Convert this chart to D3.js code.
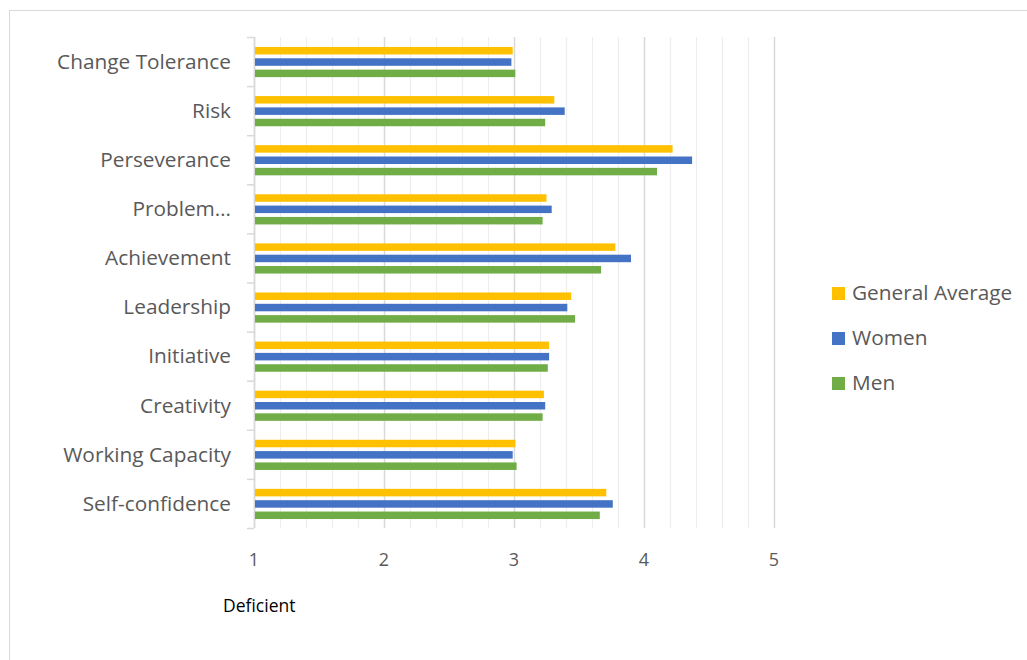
<!DOCTYPE html>
<html><head><meta charset="utf-8">
<script src="https://cdn.jsdelivr.net/npm/d3@7"></script>
<style>body{margin:0;background:#fff}svg{display:block}</style>
</head><body>
<script>
const categories = ["Change Tolerance","Risk","Perseverance","Problem…","Achievement","Leadership","Initiative","Creativity","Working Capacity","Self-confidence"];
const seriesNames = ["General Average","Women","Men"];
const generalAverage = [2.99,3.31,4.22,3.25,3.78,3.44,3.27,3.23,3.01,3.71];
const women =          [2.98,3.39,4.37,3.29,3.90,3.41,3.27,3.24,2.99,3.76];
const men =            [3.01,3.24,4.10,3.22,3.67,3.47,3.26,3.22,3.02,3.66];
const xTicks = [1,2,3,4,5];
const colors = ["#FFC000","#4472C4","#70AD47"];
const seriesValues = [generalAverage, women, men];

(function(){
const W = 1027, H = 660;
const FONT = "'Open Sans', Lato, sans-serif";
const svg = d3.select("body").append("svg").attr("width",W).attr("height",H);
svg.append("rect").attr("x",9.5).attr("y",10.5).attr("width",W+20).attr("height",H+20)
  .attr("fill","none").attr("stroke","#d9d9d9");

const pLeft = 254, pRight = 774, pTop = 37, pBottom = 528;
const x = d3.scaleLinear().domain([1,5]).range([pLeft,pRight]);
const y = d3.scaleBand().domain(categories).range([pTop,pBottom]);

// gridlines
const minor = d3.range(1,5.0001,0.2);
const isMajor = d=>Math.abs(d-Math.round(d))<1e-6;
svg.append("g").selectAll("line").data(minor).join("line")
  .attr("x1",d=>Math.round(x(d))+0.5).attr("x2",d=>Math.round(x(d))+0.5)
  .attr("y1",pTop).attr("y2",pBottom)
  .attr("stroke",d=>isMajor(d) ? "#d9d9d9" : "#eeeeee")
  .attr("stroke-width",d=>isMajor(d) ? 1.5 : 1.2);

// y axis line + ticks
const ya = svg.append("g");
ya.append("line").attr("x1",pLeft+0.5).attr("x2",pLeft+0.5).attr("y1",pTop).attr("y2",pBottom).attr("stroke","#d9d9d9").attr("stroke-width",1.5);
const bounds = categories.map(c=>y(c)).concat([pBottom]);
ya.selectAll("line.t").data(bounds).join("line").attr("class","t")
  .attr("x1",pLeft-7).attr("x2",pLeft).attr("y1",d=>d+0.5).attr("y2",d=>d+0.5)
  .attr("stroke","#d9d9d9").attr("stroke-width",1.5);

// bars
const inner = d3.scaleBand().domain(seriesNames).range([0,34]);
const barH = 7.5;
const bw = y.bandwidth();
seriesNames.forEach((s,si)=>{
  svg.append("g").selectAll("rect").data(categories).join("rect")
    .attr("x",pLeft+1)
    .attr("y",(c)=>y(c)+(bw-34)/2+inner(s)+(inner.bandwidth()-barH)/2+0.5)
    .attr("width",(c,i)=>x(seriesValues[si][i])-pLeft-1)
    .attr("height",barH)
    .attr("fill",colors[si]);
});

// category labels
svg.append("g").selectAll("text").data(categories).join("text")
  .attr("x",231).attr("y",c=>y(c)+bw/2)
  .attr("dy","0.35em").attr("text-anchor","end")
  .attr("font-family",FONT).attr("font-size",20.8)
  .attr("fill","#595959").text(c=>c);

// x tick labels
svg.append("g").selectAll("text").data(xTicks).join("text")
  .attr("x",d=>x(d)).attr("y",560).attr("dy","0.35em").attr("text-anchor","middle")
  .attr("font-family",FONT).attr("font-size",18)
  .attr("fill","#595959").text(d=>d);

svg.append("text").attr("x",223).attr("y",612)
  .attr("font-family",FONT).attr("font-size",17.5)
  .attr("fill","#000").text("Deficient");

// legend
const lg = svg.append("g");
seriesNames.forEach((s,i)=>{
  const cy = 293 + i*45;
  lg.append("rect").attr("x",832).attr("y",cy-6).attr("width",13).attr("height",13).attr("fill",colors[i]);
  lg.append("text").attr("x",852).attr("y",cy).attr("dy","0.35em")
    .attr("font-family",FONT).attr("font-size",20.8)
    .attr("fill","#595959").text(s);
});
})();
</script>
</body></html>
